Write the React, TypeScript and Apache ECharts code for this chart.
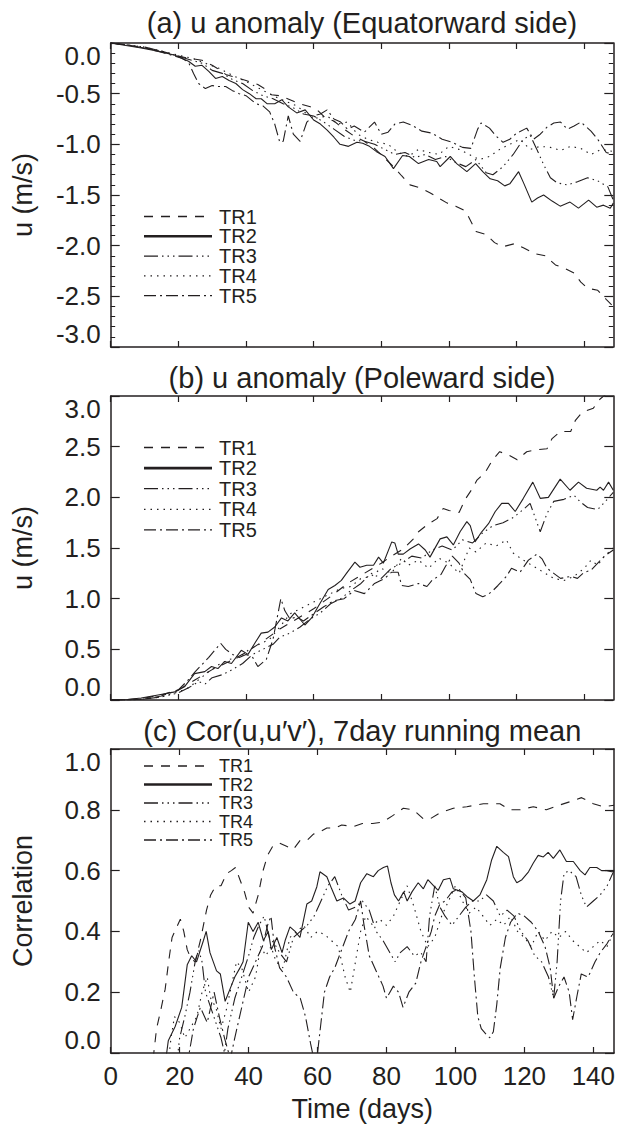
import React, { useEffect, useRef } from "react";
import * as echarts from "echarts";

// ---------------- data ----------------
const seriesNames = ["TR1", "TR2", "TR3", "TR4", "TR5"];
const xTicks = [0, 20, 40, 60, 80, 100, 120, 140];
const panelTitles = [
  "(a) u anomaly (Equatorward side)",
  "(b) u anomaly (Poleward side)",
  "(c) Cor(u,u\u2032v\u2032), 7day running mean",
];
const yNames = ["u (m/s)", "u (m/s)", "Correlation"];
const xName = "Time (days)";
const xMaxes = [148.6, 148.6, 146];
const yRanges = [
  [-3, 0, 0.5],
  [0, 3, 0.5],
  [0, 1, 0.2],
];

// Panel (a) : u anomaly, equatorward side  [day, m/s]
const aTR1 = [[0,0],[5,-0.02],[10,-0.05],[15,-0.08],[19,-0.12],[23,-0.15],[27,-0.17],[30,-0.22],[32,-0.26],[34,-0.31],[36,-0.33],[40,-0.37],[43.5,-0.41],[45.5,-0.45],[47.5,-0.51],[50,-0.52],[53,-0.56],[56,-0.6],[59,-0.63],[61,-0.66],[63.5,-0.74],[66,-0.77],[69,-0.85],[72,-0.92],[75,-0.97],[78,-1.04],[80.5,-1.12],[83,-1.2],[86,-1.31],[88.5,-1.4],[91.5,-1.43],[94.5,-1.48],[97,-1.53],[99.5,-1.58],[102,-1.61],[105,-1.66],[108,-1.86],[111,-1.89],[113.5,-1.97],[116,-2.01],[119.5,-1.98],[122,-2.02],[125.5,-2.08],[128.5,-2.1],[131.5,-2.19],[134,-2.22],[137,-2.27],[139,-2.36],[141,-2.42],[144,-2.44],[146.5,-2.53],[148.6,-2.6]];
const aTR2 = [[0,0],[9,-0.05],[14,-0.08],[19,-0.12],[23,-0.18],[25,-0.23],[27,-0.22],[29,-0.28],[31,-0.35],[33,-0.33],[35,-0.37],[37,-0.4],[39,-0.46],[41,-0.5],[43,-0.55],[44.5,-0.55],[46.3,-0.6],[48.5,-0.6],[50.6,-0.56],[52.5,-0.63],[55,-0.69],[57.5,-0.66],[60,-0.76],[62,-0.8],[64,-0.86],[66,-0.93],[67.8,-1.0],[70.3,-1.02],[72.8,-0.98],[74.5,-0.99],[76.5,-1.02],[78.5,-1.07],[81.1,-1.12],[83.6,-1.24],[86.3,-1.11],[88.3,-1.12],[91,-1.19],[94,-1.15],[96.4,-1.17],[97.4,-1.22],[100.4,-1.12],[102.3,-1.19],[105.3,-1.27],[107.9,-1.19],[110,-1.27],[112.2,-1.34],[114.4,-1.36],[116.5,-1.41],[118,-1.39],[120.6,-1.27],[122.2,-1.39],[124.5,-1.57],[126.2,-1.53],[128,-1.5],[130.5,-1.56],[132.9,-1.61],[135.8,-1.57],[138.3,-1.63],[141.3,-1.55],[143.7,-1.62],[145.7,-1.6],[147.7,-1.63],[148.6,-1.58]];
const aTR3 = [[0,0],[5,-0.02],[10,-0.04],[15,-0.08],[20,-0.13],[24,-0.17],[27,-0.2],[30,-0.27],[33,-0.3],[36,-0.36],[39,-0.4],[42,-0.47],[45,-0.52],[48,-0.55],[51,-0.6],[54,-0.64],[57,-0.7],[60,-0.72],[63,-0.78],[66,-0.85],[69,-0.92],[72,-0.96],[75,-0.97],[78,-1.0],[81,-1.05],[84,-1.1],[87,-1.08],[90,-1.13],[93,-1.1],[96,-1.15],[99,-1.12],[102,-1.18],[105,-1.22],[108,-1.15],[111,-1.28],[113,-1.3],[116,-1.22],[119,-1.1],[122,-0.95],[124,-0.91],[126,-1.05],[128,-1.2],[130,-1.33],[132,-1.38],[135,-1.4],[138,-1.37],[141,-1.33],[144,-1.36],[147,-1.42],[148.6,-1.55]];
const aTR4 = [[0,0],[5,-0.02],[10,-0.04],[15,-0.08],[20,-0.12],[24,-0.15],[28,-0.2],[32,-0.25],[36,-0.32],[40,-0.38],[44,-0.45],[48,-0.52],[52,-0.58],[55,-0.62],[58,-0.7],[61,-0.74],[64,-0.72],[67,-0.8],[70,-0.78],[73,-0.9],[76,-0.95],[79,-0.98],[82,-1.0],[85,-1.08],[88,-1.12],[91,-1.05],[94,-1.08],[97,-1.1],[100,-1.02],[103,-1.05],[106,-1.1],[109,-1.15],[112,-1.12],[115,-1.05],[118,-1.0],[121,-0.95],[124,-1.05],[127,-1.02],[130,-1.03],[133,-1.06],[136,-1.02],[139,-1.04],[142,-1.1],[145,-1.05],[148.6,-1.07]];
const aTR5 = [[0,0],[5,-0.02],[10,-0.05],[15,-0.09],[18,-0.12],[21,-0.15],[23,-0.19],[24.5,-0.3],[26,-0.4],[28,-0.45],[30,-0.42],[32,-0.43],[34,-0.43],[36,-0.47],[38,-0.5],[40,-0.52],[43,-0.6],[45,-0.62],[47,-0.68],[48.5,-0.8],[50,-0.98],[51,-0.97],[52.5,-0.72],[54,-0.9],[56,-0.97],[58,-0.78],[60,-0.72],[62,-0.7],[64,-0.66],[66,-0.75],[68,-0.78],[70,-0.85],[72,-0.82],[75,-0.88],[78,-0.78],[80,-0.9],[82,-0.88],[84,-0.8],[86.5,-0.78],[89,-0.81],[92,-0.87],[95,-0.89],[98,-0.95],[101,-0.98],[104,-1.03],[106.5,-1.04],[108.5,-0.85],[109.5,-0.79],[112,-0.84],[114,-0.92],[116,-0.98],[118,-0.95],[120,-0.89],[123,-0.84],[125,-0.95],[127,-0.9],[129,-0.83],[131,-0.79],[133,-0.78],[135,-0.85],[137,-0.82],[139,-0.78],[142,-0.87],[144,-0.95],[146.5,-1.08],[148.6,-1.1]];

// Panel (b) : u anomaly, poleward side  [day, m/s]
const bTR1 = [[0,0],[5,0.005],[10,0.02],[15,0.05],[20,0.1],[25,0.2],[30,0.3],[35,0.38],[40,0.47],[45,0.58],[50,0.7],[55,0.8],[60,0.9],[65,1.02],[70,1.15],[75,1.25],[80,1.35],[83,1.42],[86.5,1.49],[89.5,1.59],[91,1.66],[94,1.74],[96.5,1.79],[98.3,1.89],[100,1.87],[103,1.85],[104.8,1.98],[106.8,2.08],[108.3,2.17],[110.8,2.25],[112.9,2.37],[115,2.45],[117.5,2.42],[120.2,2.37],[123,2.45],[126,2.47],[129,2.48],[130.5,2.58],[133,2.65],[136,2.65],[137.4,2.76],[139.4,2.84],[142.7,2.88],[144.7,2.97],[146.5,3.02]];
const bTR2 = [[0,0],[5,0.005],[9,0.02],[14,0.05],[19,0.08],[21.8,0.13],[24.8,0.26],[27.8,0.28],[29.8,0.33],[31.7,0.31],[33.7,0.38],[35.7,0.36],[38.6,0.49],[40.6,0.45],[42.6,0.56],[44.5,0.66],[46.5,0.67],[48.5,0.72],[50.5,0.81],[52.4,0.78],[54.4,0.86],[57.4,0.74],[59.4,0.81],[61.3,0.92],[64.3,1.09],[66.3,1.13],[68.2,1.18],[69.7,1.25],[72.2,1.36],[73.7,1.31],[75.7,1.33],[77.7,1.33],[79.2,1.41],[80.6,1.35],[83.1,1.56],[84,1.55],[85,1.44],[86.5,1.44],[88.5,1.49],[91,1.54],[93,1.48],[94.4,1.41],[97.4,1.59],[99.4,1.61],[101.3,1.53],[103.3,1.66],[105.3,1.76],[106.3,1.72],[107.7,1.56],[109.7,1.66],[111.7,1.74],[113.7,1.86],[115.6,1.94],[117.6,1.94],[119.6,1.86],[122,1.99],[124.8,2.15],[127,1.99],[129.4,2.0],[132.9,2.18],[135.8,2.07],[138.3,2.15],[140.7,2.09],[143.7,2.07],[144.7,2.1],[145.7,2.07],[147.2,2.15],[148.6,2.07]];
const bTR3 = [[0,0],[5,0],[10,0.01],[15,0.03],[20,0.07],[23,0.12],[26,0.18],[28,0.16],[30,0.22],[33,0.25],[36,0.3],[39,0.36],[42,0.45],[45,0.5],[48,0.55],[50,0.62],[53,0.66],[56,0.72],[59,0.8],[62,0.86],[65,0.95],[68,1.0],[71,1.08],[74,1.15],[77,1.25],[80,1.2],[83,1.3],[86,1.35],[89,1.42],[92,1.4],[95,1.48],[98,1.52],[101,1.48],[104,1.58],[107,1.55],[110,1.65],[113,1.72],[116,1.75],[119,1.8],[122,1.88],[124,1.94],[127,1.66],[129,1.84],[131,1.96],[134,1.98],[137,2.02],[139,1.95],[141,1.9],[144,1.88],[146,1.95],[148.6,2.05]];
const bTR4 = [[0,0],[5,0],[10,0.01],[15,0.03],[20,0.08],[23,0.12],[26,0.2],[29,0.28],[32,0.35],[35,0.4],[38,0.42],[41,0.5],[44,0.55],[47,0.6],[50,0.72],[53,0.85],[56,0.9],[59,0.95],[62,1.0],[65,1.05],[68,1.1],[71,1.12],[74,1.2],[77,1.22],[80,1.3],[83,1.25],[86,1.4],[88,1.33],[91,1.38],[94,1.3],[97,1.4],[100,1.35],[103,1.25],[106,1.5],[108,1.46],[111,1.55],[114,1.52],[117,1.58],[119,1.45],[122,1.38],[125,1.32],[128,1.26],[131,1.2],[134,1.18],[137,1.22],[140,1.3],[142,1.38],[144,1.33],[146,1.42],[148.6,1.5]];
const bTR5 = [[0,0],[5,0],[10,0.01],[15,0.04],[20,0.1],[23,0.2],[25,0.28],[27,0.35],[29,0.42],[31,0.5],[32.5,0.56],[34,0.5],[36,0.45],[38,0.42],[40,0.45],[42,0.42],[43.5,0.33],[46,0.4],[48,0.6],[49.5,0.86],[50.3,1.0],[51.5,0.88],[53,0.8],[55,0.82],[57,0.78],[60,0.85],[63,0.92],[66,0.98],[69,1.0],[72,1.08],[75,1.05],[78,1.15],[81,1.2],[83,1.26],[85,1.26],[86,1.13],[88,1.12],[91,1.15],[93.5,1.12],[95,1.18],[97.7,1.24],[99,1.32],[101,1.42],[103,1.35],[104.5,1.25],[106.3,1.19],[108,1.05],[110,1.02],[111.5,1.04],[113,1.08],[114.5,1.13],[117,1.22],[118.5,1.3],[121,1.26],[123.5,1.38],[126,1.44],[127.6,1.39],[129,1.3],[131,1.25],[133,1.2],[136,1.22],[138,1.2],[140,1.26],[142,1.28],[144,1.35],[146,1.42],[148.6,1.48]];

// Panel (c) : correlation, 7-day running mean  [day, r]
const cTR1 = [[12.3,-0.02],[13.3,0.08],[14.5,0.14],[15.8,0.21],[16.8,0.3],[17.8,0.38],[19,0.41],[20.2,0.44],[21.2,0.4],[22.2,0.34],[23.3,0.31],[24.5,0.3],[26,0.37],[27.8,0.47],[29,0.52],[30.5,0.55],[32,0.55],[33.6,0.59],[35,0.6],[36.2,0.61],[37.5,0.57],[38.8,0.53],[40,0.48],[41.3,0.46],[42.8,0.52],[44.2,0.6],[45.5,0.65],[47,0.68],[49,0.69],[51,0.68],[53,0.67],[55,0.7],[57,0.7],[58.8,0.72],[61,0.73],[62.7,0.74],[65,0.74],[67,0.75],[70.4,0.745],[73,0.755],[76,0.755],[79,0.76],[81.7,0.78],[84.9,0.805],[87.8,0.8],[90.7,0.77],[92.6,0.77],[95.5,0.79],[99.4,0.805],[103.3,0.81],[108.1,0.82],[112.9,0.82],[115.8,0.8],[118.7,0.8],[122.6,0.81],[126.4,0.8],[130.3,0.816],[134.2,0.83],[136.6,0.84],[140,0.82],[142.9,0.81],[146,0.815]];
const cTR2 = [[16,-0.02],[16.7,0.04],[18.7,0.087],[20.6,0.15],[22.2,0.29],[23.5,0.32],[24.9,0.3],[26.9,0.37],[27.7,0.4],[28.8,0.33],[30.7,0.27],[31.8,0.26],[33.2,0.17],[34.6,0.21],[36,0.25],[37.5,0.28],[38.4,0.3],[39.9,0.43],[41.3,0.4],[42.8,0.43],[44.3,0.37],[45.7,0.4],[46.6,0.34],[48.2,0.38],[49.7,0.33],[50.6,0.37],[52,0.415],[53.5,0.4],[54.9,0.38],[56.9,0.49],[58.3,0.5],[59.8,0.547],[60.7,0.596],[62.7,0.58],[64.1,0.54],[65.6,0.5],[67.5,0.51],[69.4,0.49],[70.9,0.5],[72.5,0.56],[74.3,0.59],[76.2,0.58],[77.6,0.6],[79.1,0.61],[80.3,0.615],[81.3,0.56],[82.3,0.52],[83.5,0.5],[85,0.53],[86,0.5],[87.4,0.53],[89.2,0.56],[90.7,0.54],[92,0.57],[93.7,0.55],[95,0.535],[96.5,0.57],[98.4,0.575],[99.4,0.54],[101.9,0.53],[103.3,0.515],[105.2,0.5],[107.1,0.52],[109.1,0.57],[110.5,0.635],[112,0.68],[113.9,0.66],[115.4,0.646],[116.8,0.58],[117.8,0.56],[119.3,0.57],[121.2,0.596],[122.6,0.625],[124,0.65],[125.5,0.645],[126.9,0.66],[128.4,0.64],[130.3,0.668],[132.2,0.63],[134.2,0.63],[136.2,0.6],[137.6,0.586],[139,0.61],[141,0.61],[142.4,0.6],[143.9,0.6],[145.3,0.596],[146,0.6]];
const cTR3 = [[19,-0.05],[20,0.05],[21.5,0.12],[23,0.2],[24.5,0.3],[25.5,0.34],[26.5,0.3],[27.5,0.2],[29,0.15],[30.5,0.1],[32,0.05],[33,0.0],[34,0.08],[36,0.18],[38,0.25],[40,0.32],[41.5,0.38],[43,0.42],[44.5,0.45],[46,0.38],[47.5,0.36],[49,0.33],[51,0.3],[53,0.38],[55,0.4],[57,0.42],[59,0.45],[61,0.5],[63,0.55],[65,0.58],[67,0.52],[69,0.47],[71,0.48],[73,0.5],[75,0.47],[77,0.4],[79,0.37],[81,0.33],[82.5,0.3],[84,0.33],[86,0.35],[88,0.32],[90,0.33],[91.5,0.3],[92.5,0.45],[94,0.55],[95.5,0.48],[97,0.45],[99,0.42],[101,0.45],[103,0.48],[105,0.5],[107,0.5],[109,0.52],[111,0.5],[113,0.45],[115,0.47],[117,0.45],[119,0.4],[121,0.37],[123,0.32],[125,0.3],[127,0.25],[128.5,0.18],[129.5,0.3],[130.5,0.5],[131.5,0.59],[133,0.6],[135,0.58],[136.5,0.52],[138,0.48],[140,0.5],[142,0.52],[144,0.55],[146,0.6]];
const cTR4 = [[16.5,-0.05],[17.5,0.05],[18.5,0.12],[20,0.1],[21.5,0.05],[23,0.08],[25,0.12],[26.5,0.2],[28,0.25],[29,0.18],[30.5,0.15],[32,0.08],[33.5,0.14],[35,0.22],[36.5,0.3],[38,0.28],[40,0.2],[42,0.25],[43.5,0.35],[45,0.32],[46.5,0.35],[48,0.3],[50,0.28],[52,0.38],[54,0.4],[56,0.42],[58,0.38],[60,0.4],[62,0.39],[64,0.37],[66,0.35],[68,0.25],[69.5,0.2],[71,0.3],[72.5,0.4],[74,0.45],[76,0.42],[78,0.44],[80,0.42],[82,0.45],[84,0.5],[86,0.55],[88,0.48],[90,0.4],[92,0.35],[94,0.38],[96,0.45],[98,0.5],[100,0.55],[102,0.5],[104,0.46],[106,0.48],[108,0.45],[110,0.42],[112,0.44],[114,0.42],[116,0.45],[118,0.4],[120,0.38],[122,0.35],[124,0.4],[126,0.37],[128,0.4],[130,0.38],[132,0.4],[134,0.37],[136,0.35],[138,0.33],[140,0.35],[142,0.37],[144,0.35],[146,0.4]];
const cTR5 = [[22,-0.05],[24,0.08],[26,0.15],[28,0.1],[30,0.2],[31.5,0.12],[33,0.05],[34.7,-0.02],[36,0.05],[38,0.15],[40,0.25],[42,0.3],[44,0.35],[45.5,0.42],[46.5,0.45],[47.5,0.35],[49,0.28],[51,0.25],[53,0.2],[55,0.18],[56.5,0.12],[58,0.03],[59.5,-0.05],[60.5,0.05],[62,0.2],[63.5,0.25],[65,0.28],[67,0.34],[69,0.4],[71,0.44],[72.5,0.5],[73.5,0.42],[75,0.32],[77,0.27],[79,0.22],[80,0.18],[82,0.22],[83.5,0.2],[84.8,0.15],[86.5,0.2],[88.5,0.23],[90,0.3],[91.5,0.35],[93,0.4],[94,0.45],[95.5,0.49],[97,0.5],[99,0.53],[101,0.54],[103,0.51],[104.5,0.4],[105.5,0.25],[106.5,0.12],[107.5,0.08],[109,0.06],[110,0.05],[111,0.07],[112,0.16],[113,0.28],[114.5,0.38],[116,0.43],[118,0.46],[120,0.45],[122,0.43],[124,0.4],[126,0.35],[127.5,0.28],[128.5,0.18],[130,0.22],[131.5,0.25],[133,0.2],[134,0.11],[135.3,0.19],[136.5,0.26],[138.5,0.25],[140.5,0.3],[142,0.33],[144,0.36],[146,0.4]];

const panelSeries = [
  [aTR1, aTR2, aTR3, aTR4, aTR5],
  [bTR1, bTR2, bTR3, bTR4, bTR5],
  [cTR1, cTR2, cTR3, cTR4, cTR5],
];

// ---------------- styles / layout ----------------
const INK = "#231f20";
const FONT = "'Liberation Sans', Arial, Helvetica, sans-serif";
const dashStyles: any[] = [
  [9, 8],
  "solid",
  [14, 4, 1.5, 4, 1.5, 4, 1.5, 4],
  [1.5, 5],
  [12, 4, 2, 4],
];
const gridBoxes = [
  { left: 110.7, top: 43, width: 502.6, height: 304 },
  { left: 110.7, top: 396, width: 502.6, height: 304 },
  { left: 110.7, top: 749, width: 503.3, height: 304 },
];
const titleY = [23, 377.5, 731];
const legendTop = [216.5, 447.5, 766];
const legendStep = [19.8, 20.6, 18.5];
const legendFont = [20, 20, 18];

export default function App() {
  const ref = useRef<HTMLDivElement>(null);

  useEffect(() => {
    document.body.style.margin = "0";
    const chart = echarts.init(ref.current as HTMLDivElement, null, { renderer: "svg" });

    const axisLine = { show: true, onZero: false, lineStyle: { color: INK, width: 1.5 } };

    const xAxes: any[] = [];
    const yAxes: any[] = [];
    gridBoxes.forEach((_, p) => {
      const showX = p === 2;
      ["bottom", "top"].forEach((pos) => {
        const main = pos === "bottom" && showX;
        xAxes.push({
          type: "value",
          gridIndex: p,
          position: pos,
          min: 0,
          max: xMaxes[p],
          axisLine,
          axisTick: { show: true, inside: true, length: 6, customValues: xTicks, lineStyle: { color: INK, width: 1.2 } },
          axisLabel: {
            show: main,
            customValues: xTicks,
            fontSize: 26,
            fontFamily: FONT,
            color: INK,
            margin: 10,
          },
          splitLine: { show: false },
          name: main ? xName : "",
          nameLocation: "middle",
          nameGap: 42,
          nameTextStyle: { fontSize: 27, fontFamily: FONT, color: INK },
        });
      });
      const [mn, mx, step] = yRanges[p];
      ["left", "right"].forEach((pos) => {
        const main = pos === "left";
        yAxes.push({
          type: "value",
          gridIndex: p,
          position: pos,
          min: mn,
          max: mx,
          interval: step,
          axisLine,
          axisTick: { show: true, inside: true, length: 9, lineStyle: { color: INK, width: 1.2 } },
          minorTick: { show: p === 0, splitNumber: 5, length: 4.5, lineStyle: { color: INK, width: 1 } },
          minorSplitLine: { show: false },
          splitLine: { show: false },
          axisLabel: {
            show: main,
            formatter: (v: number) => v.toFixed(1),
            fontSize: 26,
            fontFamily: FONT,
            color: INK,
            margin: 10,
            verticalAlignMinLabel: "bottom",
            verticalAlignMaxLabel: "top",
          },
          name: main ? yNames[p] : "",
          nameLocation: "middle",
          nameRotate: 90,
          nameGap: 74,
          nameTextStyle: { fontSize: 27, fontFamily: FONT, color: INK },
        });
      });
    });

    const series: any[] = [];
    panelSeries.forEach((list, p) => {
      list.forEach((data, k) => {
        series.push({
          type: "line",
          name: seriesNames[k] + " " + "abc"[p],
          xAxisIndex: 2 * p,
          yAxisIndex: 2 * p,
          data,
          showSymbol: false,
          symbol: "none",
          clip: true,
          silent: true,
          lineStyle: { color: INK, width: 1.1, type: dashStyles[k] },
          emphasis: { disabled: true },
        });
      });
    });

    const graphics: any[] = [];
    panelTitles.forEach((t, p) => {
      graphics.push({
        type: "text",
        x: gridBoxes[p].left + gridBoxes[p].width / 2,
        y: titleY[p],
        style: { text: t, fontSize: 29, fontFamily: FONT, fill: INK, align: "center", verticalAlign: "middle" },
      });
      seriesNames.forEach((nm, k) => {
        const y = legendTop[p] + k * legendStep[p];
        const dash = dashStyles[k];
        graphics.push({
          type: "line",
          shape: { x1: 144, y1: y, x2: 212, y2: y },
          style: {
            stroke: INK,
            lineWidth: k === 1 ? 2.6 : 1.3,
            lineDash: dash === "solid" ? null : dash,
          },
        });
        graphics.push({
          type: "text",
          x: 219,
          y,
          style: {
            text: nm,
            fontSize: legendFont[p],
            lineHeight: legendStep[p] - 2,
            fontFamily: FONT,
            fill: INK,
            align: "left",
            verticalAlign: "middle",
          },
        });
      });
    });

    chart.setOption({
      animation: false,
      backgroundColor: "#ffffff",
      grid: gridBoxes.map((g) => ({ ...g, containLabel: false, outerBoundsMode: "none" })),
      xAxis: xAxes,
      yAxis: yAxes,
      series,
      graphic: graphics,
    });

    return () => chart.dispose();
  }, []);

  return <div ref={ref} style={{ width: 626, height: 1125, background: "#fff" }} />;
}
